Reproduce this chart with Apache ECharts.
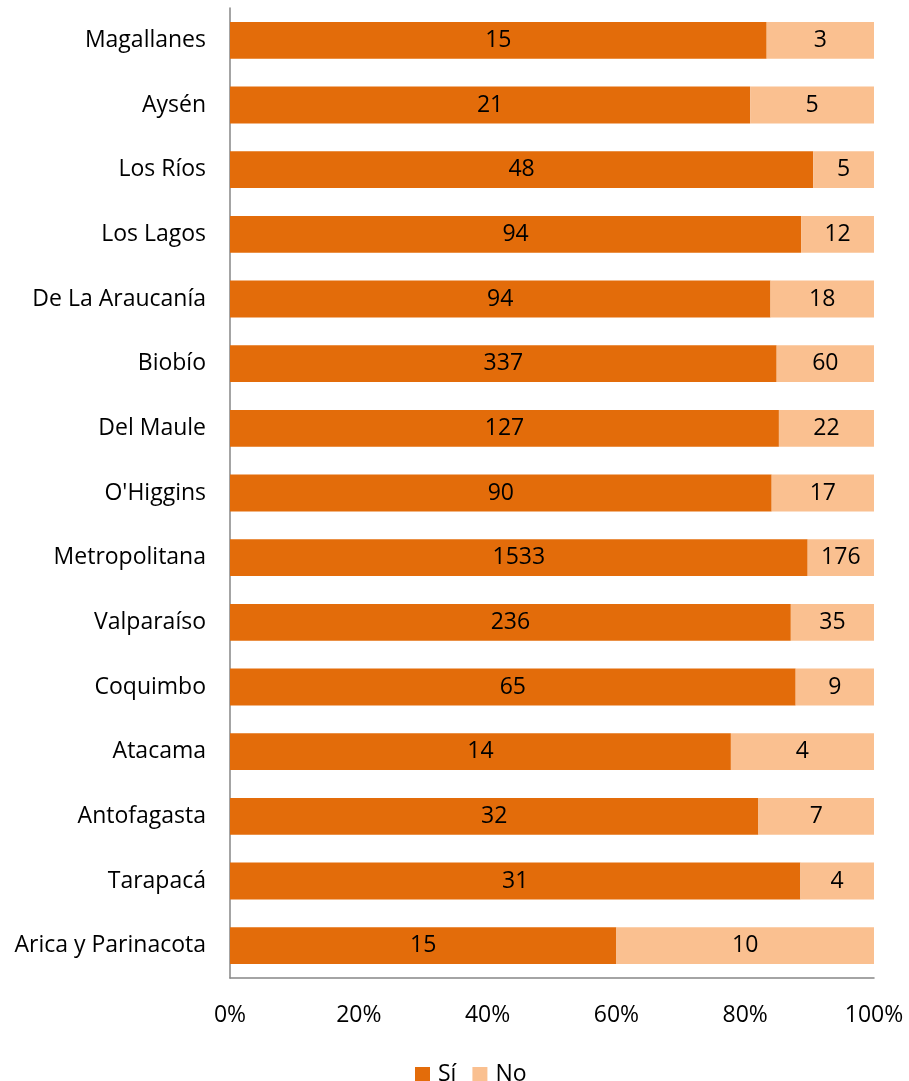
<!DOCTYPE html>
<html><head><meta charset="utf-8">
<script src="https://cdn.jsdelivr.net/npm/echarts@6/dist/echarts.min.js"></script>
<style>html,body{margin:0;padding:0;background:#fff}#c{width:909px;height:1081px}</style>
</head><body><div id="c"></div>
<script>
const categories = ["Arica y Parinacota","Tarapacá","Antofagasta","Atacama","Coquimbo","Valparaíso","Metropolitana","O'Higgins","Del Maule","Biobío","De La Araucanía","Los Lagos","Los Ríos","Aysén","Magallanes"];
const si = [15,31,32,14,65,236,1533,90,127,337,94,94,48,21,15];
const no = [10,4,7,4,9,35,176,17,22,60,18,12,5,5,3];
const tickLabels = ["0%","20%","40%","60%","80%","100%"];

const siPct = si.map((v,i)=>v/(v+no[i])*100);
const noPct = no.map((v,i)=>v/(si[i]+v)*100);
const font = "'Open Sans', sans-serif";
const fs = 23;
const chart = echarts.init(document.getElementById('c'));
chart.setOption({
  animation:false,
  textStyle:{fontFamily:font},
  grid:{left:230,right:35,top:8,bottom:103,containLabel:false},
  legend:{top:1058,left:410,itemWidth:15,itemHeight:15,itemGap:16,icon:'rect',
    textStyle:{fontSize:fs,color:'#000',fontFamily:font,padding:[0,0,0,3]},data:['Sí','No']},
  xAxis:{type:'value',min:0,max:100,interval:20,
    axisLabel:{formatter:(v)=>tickLabels[Math.round(v/20)],fontSize:fs,color:'#000',margin:26,fontFamily:font},
    axisLine:{show:true,lineStyle:{color:'#868686',width:1.5}},axisTick:{show:false},splitLine:{show:false}},
  yAxis:{type:'category',data:categories,
    axisLabel:{fontSize:fs,color:'#000',margin:24,fontFamily:font},
    axisLine:{show:true,lineStyle:{color:'#868686',width:1.5}},axisTick:{show:false}},
  series:[
    {name:'Sí',type:'bar',stack:'t',data:siPct,barCategoryGap:'43%',
     itemStyle:{color:'#E36C0A'},
     label:{show:true,position:'inside',color:'#000',fontSize:fs,fontFamily:font,formatter:(p)=>String(si[p.dataIndex])}},
    {name:'No',type:'bar',stack:'t',data:noPct,
     itemStyle:{color:'#FAC090'},
     label:{show:true,position:'inside',color:'#000',fontSize:fs,fontFamily:font,formatter:(p)=>String(no[p.dataIndex])}}
  ]
});
</script></body></html>
